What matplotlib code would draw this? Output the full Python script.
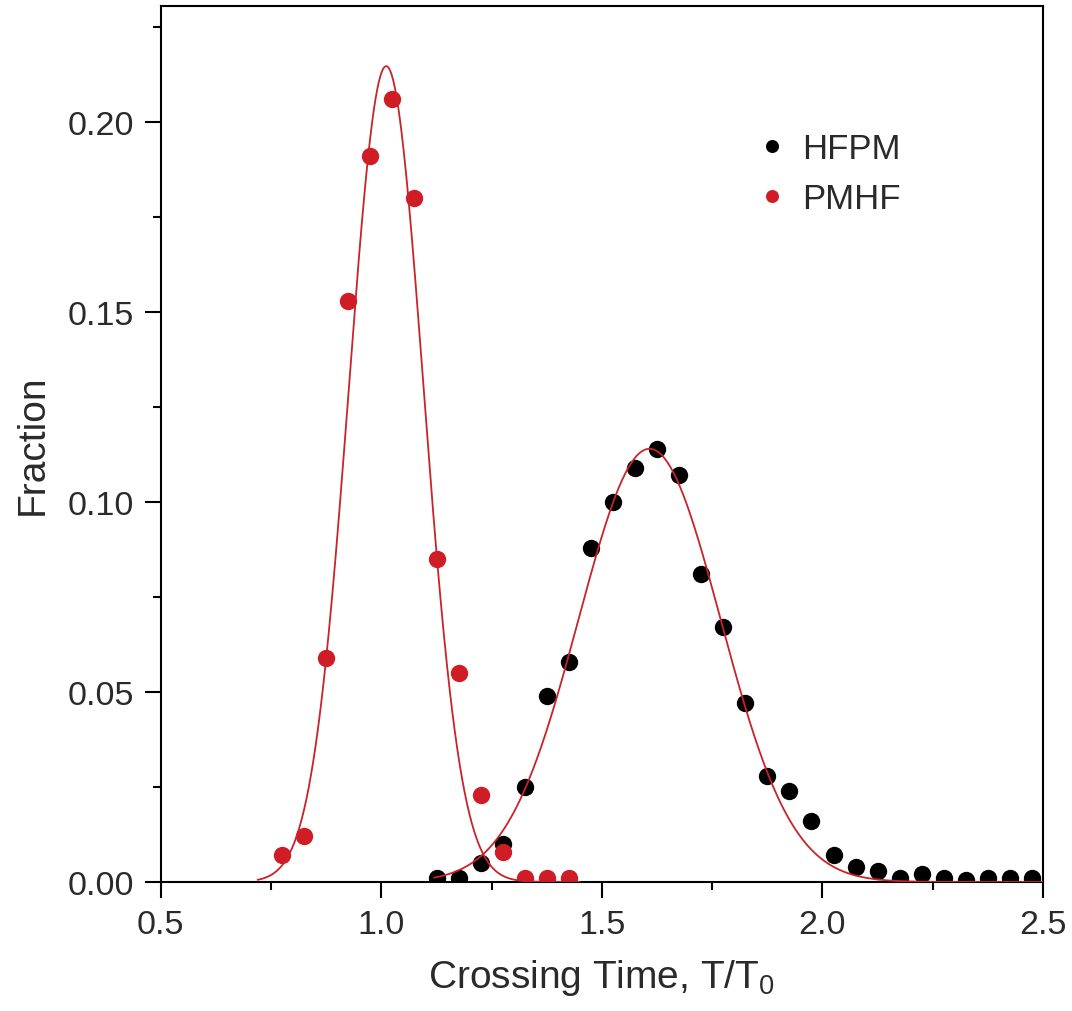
import numpy as np
import matplotlib
matplotlib.use("Agg")
from matplotlib import pyplot as plt
from matplotlib.ticker import MultipleLocator

plt.rcParams['font.family'] = ['Liberation Sans', 'DejaVu Sans']

# HFPM (black points)
hfpm_x = [1.125, 1.175, 1.225, 1.275, 1.325, 1.375, 1.425, 1.475, 1.525, 1.575,
          1.625, 1.675, 1.725, 1.775, 1.825, 1.875, 1.925, 1.975, 2.025, 2.075,
          2.125, 2.175, 2.225, 2.275, 2.325, 2.375, 2.425, 2.475]
hfpm_y = [0.001, 0.001, 0.005, 0.010, 0.025, 0.049, 0.058, 0.088, 0.100, 0.109,
          0.114, 0.107, 0.081, 0.067, 0.047, 0.028, 0.024, 0.016, 0.007, 0.004,
          0.003, 0.001, 0.002, 0.001, 0.0005, 0.001, 0.001, 0.001]

# PMHF (red points)
pmhf_x = [0.775, 0.825, 0.875, 0.925, 0.975, 1.025, 1.075, 1.125, 1.175, 1.225,
          1.275, 1.325, 1.375, 1.425]
pmhf_y = [0.007, 0.012, 0.059, 0.153, 0.191, 0.206, 0.180, 0.085, 0.055, 0.023,
          0.008, 0.001, 0.001, 0.001]

# Gaussian fit curves: amplitude, centre, width, x-range
pmhf_fit = dict(a=0.2147, xc=1.011, w=0.0846, x0=0.72, x1=1.45)
hfpm_fit = dict(a=0.1140, xc=1.608, w=0.161, x0=1.12, x1=2.5)

red = '#d01c24'
line_red = '#c8232b'
text_col = '#2a2a2a'

fig = plt.figure(figsize=(10.72, 10.12), dpi=100)
ax = fig.add_axes([0.150, 0.1275, 0.823, 0.8655])

ax.plot(hfpm_x, hfpm_y, 'o', color='black', ms=12.5, mec='none', label='HFPM', zorder=2)
ax.plot(pmhf_x, pmhf_y, 'o', color=red, ms=12.5, mec='none', label='PMHF', zorder=2)

for fit in (pmhf_fit, hfpm_fit):
    xs = np.linspace(fit['x0'], fit['x1'], 400)
    ys = fit['a'] * np.exp(-(xs - fit['xc']) ** 2 / (2 * fit['w'] ** 2))
    ax.plot(xs, ys, color=line_red, lw=1.3, zorder=3)

ax.set_xlim(0.5, 2.5)
ax.set_ylim(0, 0.2305)
ax.xaxis.set_major_locator(MultipleLocator(0.5))
ax.xaxis.set_minor_locator(MultipleLocator(0.25))
ax.yaxis.set_major_locator(MultipleLocator(0.05))
ax.yaxis.set_minor_locator(MultipleLocator(0.025))
ax.xaxis.set_major_formatter(lambda v, p: f'{v:.1f}')
ax.yaxis.set_major_formatter(lambda v, p: f'{v:.2f}')

ax.tick_params(which='both', direction='out', width=1.5, labelsize=24.5,
               color='black', labelcolor=text_col)
ax.tick_params(which='major', length=11.5)
ax.tick_params(which='minor', length=6)
ax.tick_params(axis='x', pad=8)
ax.tick_params(axis='y', pad=8)
for s in ax.spines.values():
    s.set_linewidth(1.5)

ax.set_xlabel('Crossing Time, T/T$_\\mathregular{0}$', fontsize=28, labelpad=12,
              color=text_col)
ax.set_ylabel('Fraction', fontsize=28, labelpad=12, color=text_col)

ax.legend(loc='upper left', bbox_to_anchor=(0.638, 0.892), frameon=False, fontsize=25,
          markerscale=0.75, handlelength=1.0, handletextpad=0.35, labelspacing=0.5,
          labelcolor=text_col)

fig.savefig('out.png', dpi=100)
